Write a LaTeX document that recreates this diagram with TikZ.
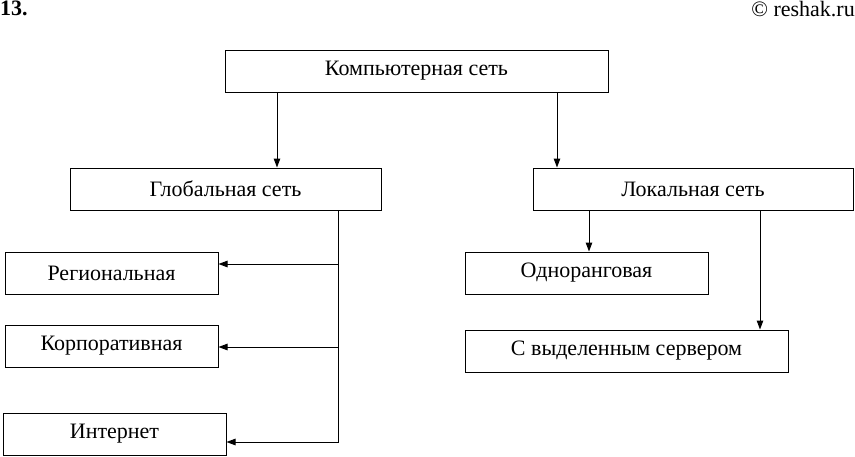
\documentclass[tikz,border=0pt]{standalone}
\usepackage{fontspec}
\setmainfont{Liberation Serif}
\usetikzlibrary{positioning,arrows.meta}

\tikzset{
    netbox/.style={draw, line width=1pt, minimum height=42pt, inner sep=0pt, font=\fontsize{22}{26}\selectfont},
    arr/.style={-{Triangle[length=9pt,width=6.5pt]}, line width=1pt}
}

\begin{document}
\begin{tikzpicture}[x=1pt,y=-1pt]
\useasboundingbox (0,0) rectangle (855,456);

% Header
\node[anchor=north west, inner sep=0pt, font=\fontsize{22}{26}\selectfont\bfseries] (num) at (0,1) {13.};
\node[anchor=north east, inner sep=0pt, font=\fontsize{22}{26}\selectfont] (site) at (855,1) {© reshak.ru};

% Top level
\node[netbox, minimum width=383pt] (net) at (416.5,71) {Компьютерная сеть};

% Second level
\node[netbox, minimum width=311pt] (global) at (225.5,189) {Глобальная сеть};
\node[netbox, minimum width=320pt] (local) at (693,189) {Локальная сеть};
\draw[arr] ([xshift=-139.5pt]net.south) -- ([xshift=-139.5pt]net.south |- global.north);
\draw[arr] ([xshift=140.5pt]net.south) -- ([xshift=140.5pt]net.south |- local.north);

% Global children
\node[netbox, minimum width=213pt] (regional) at (111.5,273) {Региональная};
\node[netbox, minimum width=213pt] (corporate) at (111.5,346) {Корпоративная};
\node[netbox, minimum width=223pt] (internet) at (114.5,434) {Интернет};
\coordinate (gbus) at ([xshift=112.5pt]global.south);
\foreach \n/\s in {regional/9pt,corporate/-1pt,internet/-8pt} {
    \draw[arr] (gbus) |- ([yshift=\s]\n.east);
}

% Local children
\node[netbox, minimum width=243pt] (peer) at (586.5,273) {Одноранговая};
\node[netbox, minimum width=323pt] (server) at (626.5,351) {С выделенным сервером};
\draw[arr] ([xshift=-104pt]local.south) -- ([xshift=-104pt]local.south |- peer.north);
\draw[arr] ([xshift=67pt]local.south) -- ([xshift=67pt]local.south |- server.north);
\end{tikzpicture}
\end{document}
